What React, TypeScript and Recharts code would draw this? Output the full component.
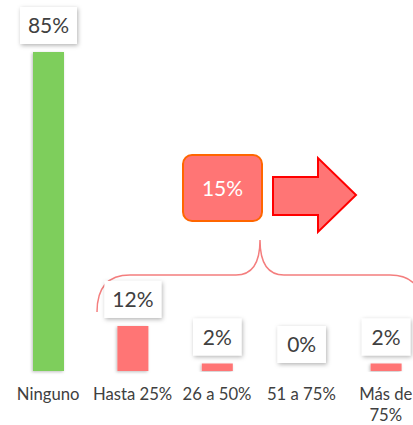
import { BarChart, Bar, XAxis, YAxis, Cell, LabelList, Customized } from "recharts";

const categories = ["Ninguno", "Hasta 25%", "26 a 50%", "51 a 75%", "Más de 75%"];
const shares = [85, 12, 2, 0, 2];
const groupedShare = "15%";

const data = categories.map((name, i) => ({ name, value: shares[i] }));

const GREEN = "#7ECE5C";
const RED = "#FF7575";
const TEXT = "#404040";
const FONT = "Lato, 'Open Sans', sans-serif";

function ValueBox(props: any) {
  const { x, y, width, height, value } = props;
  const label = `${value}%`;
  const digits = String(value).length;
  const w = 40 + 8.5 * digits;
  const h = 37;
  const cx = x + width / 2;
  // zero-height bars come through with a tiny min size, anchor on the baseline
  const top = value === 0 ? y + height : y;
  const bottom = top - 8;
  return (
    <g>
      <rect x={cx - w / 2} y={bottom - h} width={w} height={h} fill="#fff" filter="url(#boxShadow)" />
      <text x={cx} y={bottom - h / 2} dy="0.36em" textAnchor="middle" fontSize={21} fill={TEXT} fontFamily={FONT}>
        {label}
      </text>
    </g>
  );
}

function CategoryTick(props: any) {
  const { x, y, payload } = props;
  const label: string = payload.value;
  const lines = label.length > 9 ? [label.slice(0, label.lastIndexOf(" ")), label.slice(label.lastIndexOf(" ") + 1)] : [label];
  return (
    <text x={x} y={y + 29} textAnchor="middle" fontSize={16.7} fill={TEXT} fontFamily={FONT}>
      {lines.map((l, i) => (
        <tspan key={i} x={x} dy={i === 0 ? 0 : 21}>
          {l}
        </tspan>
      ))}
    </text>
  );
}

// callout: brace over the non-zero groups, box with the total and an arrow
function Callout() {
  return (
    <g>
      <defs>
        <filter id="boxShadow" x="-30%" y="-30%" width="160%" height="160%">
          <feDropShadow dx="1" dy="1.5" stdDeviation="2" floodColor="#000" floodOpacity="0.3" />
        </filter>
        <filter id="barShadow" x="-30%" y="-10%" width="160%" height="120%">
          <feDropShadow dx="-1" dy="1" stdDeviation="1.5" floodColor="#000" floodOpacity="0.25" />
        </filter>
      </defs>
      <path
        d="M 97 312 Q 97 275 130 275 L 236 275 Q 260 275 260 240 Q 260 275 284 275 L 390 275 Q 423 275 423 312"
        fill="none"
        stroke="#F47E7E"
        strokeWidth={1.5}
      />
      <rect x={183} y={155} width={79} height={66} rx={9} fill={RED} stroke="#FF6600" strokeWidth={2} />
      <text x={222.5} y={188} dy="0.36em" textAnchor="middle" fontSize={21} fill="#fff" fontFamily={FONT}>
        {groupedShare}
      </text>
      <polygon
        points="273,177 318,177 318,158 356,195 318,232 318,215 273,215"
        fill={RED}
        stroke="#FF0000"
        strokeWidth={2}
        strokeLinejoin="miter"
      />
    </g>
  );
}

export default function App() {
  return (
    <div style={{ position: "fixed", left: 0, top: 0, width: 413, height: 425, overflow: "hidden", background: "#fff" }}>
      <BarChart width={428} height={425} data={data} margin={{ top: 52, right: 0, left: 6, bottom: 0 }}>
        <Customized component={Callout} />
        <XAxis
          dataKey="name"
          axisLine={false}
          tickLine={false}
          tickSize={0}
          tickMargin={0}
          height={54}
          interval={0}
          tick={<CategoryTick />}
        />
        <YAxis hide domain={[0, 85]} />
        <Bar dataKey="value" barSize={31} minPointSize={0.01} isAnimationActive={false} filter="url(#barShadow)">
          {data.map((d, i) => (
            <Cell key={d.name} fill={i === 0 ? GREEN : RED} />
          ))}
          <LabelList dataKey="value" content={<ValueBox />} />
        </Bar>
      </BarChart>
    </div>
  );
}
